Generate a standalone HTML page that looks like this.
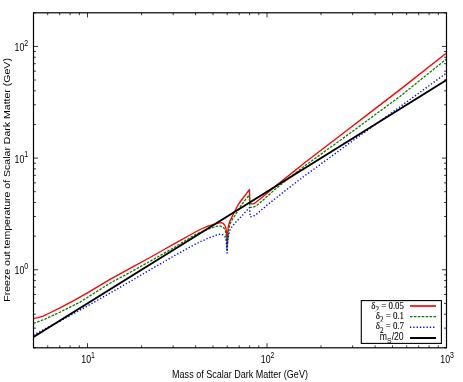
<!DOCTYPE html>
<html><head><meta charset="utf-8"><style>
html,body{margin:0;padding:0;background:#fff;}
svg{display:block;will-change:transform;}
text{font-family:"Liberation Sans",sans-serif;fill:#000;}
.ser{font-family:"Liberation Serif",serif;font-size:10.4px;stroke:#000;stroke-width:0.1px;}
</style></head><body>
<svg width="463" height="382" viewBox="0 0 463 382">
<rect width="463" height="382" fill="#fff"/>
<g fill="none" stroke-linejoin="round">
<polyline points="33.5,318.6 38.0,317.7 43.0,316.1 49.6,313.0 60.0,307.9 74.5,300.2 87.0,293.1 110.0,279.4 130.0,268.4 150.0,257.5 165.0,249.0 175.0,243.4 180.0,240.7 190.0,235.0 200.0,229.5 208.0,226.2 213.0,224.6 217.5,223.3 221.0,222.7 223.0,223.3 224.6,225.0 225.6,227.2 226.1,229.5 226.5,233.0 226.8,240.0 227.1,246.5 227.3,240.0 227.7,233.0 228.3,226.5 229.8,221.3 231.9,217.1 233.0,214.8 238.0,205.0 241.5,200.0 246.0,194.2 249.4,189.6 249.9,202.8 251.5,203.9 253.5,203.8 255.0,203.0 260.0,199.0 268.0,192.5 274.6,186.9 305.0,162.5 350.0,128.0 370.0,112.6 400.0,89.6 446.5,53.0" stroke="#ff0000" stroke-width="1.35"/>
<polyline points="33.5,323.4 45.0,319.1 60.0,312.1 80.0,302.1 87.0,297.7 110.0,283.2 130.0,272.4 150.0,261.3 175.0,247.0 195.0,234.7 208.0,229.2 214.0,227.0 217.5,226.2 220.4,226.0 222.2,226.6 223.5,227.6 224.6,229.0 225.4,230.9 226.0,234.2 226.5,240.0 226.8,246.5 227.1,250.5 227.4,246.0 227.7,240.5 228.5,230.7 229.8,224.4 231.9,220.2 234.3,216.5 240.8,205.9 246.0,198.9 249.3,195.0 249.9,207.3 252.0,207.4 254.6,206.6 257.6,204.8 262.0,201.0 275.0,189.4 290.0,177.2 305.0,165.7 350.0,133.2 400.0,96.4 446.5,58.9" stroke="#008000" stroke-width="1.3" stroke-dasharray="2.6,1.3"/>
<polyline points="33.5,335.2 45.0,328.8 60.0,321.2 87.0,306.2 110.0,293.1 130.0,281.6 150.0,269.8 165.0,261.2 175.0,255.3 195.0,244.3 208.0,238.2 212.0,236.8 215.5,235.3 218.3,234.5 220.5,234.2 222.5,234.5 224.0,235.4 225.1,237.0 225.8,239.2 226.3,242.5 226.7,247.0 227.1,253.0 227.4,246.5 227.8,240.5 228.8,233.9 230.0,230.3 231.4,227.6 234.6,223.4 238.2,219.7 241.4,216.4 245.0,212.4 249.4,207.7 250.3,216.9 253.0,216.3 256.0,214.7 260.0,211.3 266.8,205.3 285.0,190.9 305.0,175.6 313.0,169.8 350.0,142.7 400.0,106.8 446.5,73.0" stroke="#0000ff" stroke-width="1.4" stroke-dasharray="1.3,2.0"/>
<polyline points="33.5,337.0 446.5,80.0" stroke="#000" stroke-width="2"/>
</g>
<rect x="33.5" y="12.8" width="413.0" height="335.0" fill="none" stroke="#000" stroke-width="1.2"/>
<path d="M33.50,347.80v-2.40M33.50,12.80v2.40M47.71,347.80v-2.40M47.71,12.80v2.40M59.73,347.80v-2.40M59.73,12.80v2.40M70.14,347.80v-2.40M70.14,12.80v2.40M79.32,347.80v-2.40M79.32,12.80v2.40M87.53,347.80v-4.60M87.53,12.80v4.60M141.56,347.80v-2.40M141.56,12.80v2.40M173.17,347.80v-2.40M173.17,12.80v2.40M195.59,347.80v-2.40M195.59,12.80v2.40M212.98,347.80v-2.40M212.98,12.80v2.40M227.20,347.80v-2.40M227.20,12.80v2.40M239.21,347.80v-2.40M239.21,12.80v2.40M249.62,347.80v-2.40M249.62,12.80v2.40M258.80,347.80v-2.40M258.80,12.80v2.40M267.02,347.80v-4.60M267.02,12.80v4.60M321.05,347.80v-2.40M321.05,12.80v2.40M352.65,347.80v-2.40M352.65,12.80v2.40M375.08,347.80v-2.40M375.08,12.80v2.40M392.47,347.80v-2.40M392.47,12.80v2.40M406.68,347.80v-2.40M406.68,12.80v2.40M418.70,347.80v-2.40M418.70,12.80v2.40M429.11,347.80v-2.40M429.11,12.80v2.40M438.29,347.80v-2.40M438.29,12.80v2.40M33.50,347.80h2.40M446.50,347.80h-2.40M33.50,328.14h2.40M446.50,328.14h-2.40M33.50,314.18h2.40M446.50,314.18h-2.40M33.50,303.36h2.40M446.50,303.36h-2.40M33.50,294.52h2.40M446.50,294.52h-2.40M33.50,287.05h2.40M446.50,287.05h-2.40M33.50,280.57h2.40M446.50,280.57h-2.40M33.50,274.86h2.40M446.50,274.86h-2.40M33.50,269.75h4.60M446.50,269.75h-4.60M33.50,236.13h2.40M446.50,236.13h-2.40M33.50,216.47h2.40M446.50,216.47h-2.40M33.50,202.52h2.40M446.50,202.52h-2.40M33.50,191.70h2.40M446.50,191.70h-2.40M33.50,182.85h2.40M446.50,182.85h-2.40M33.50,175.38h2.40M446.50,175.38h-2.40M33.50,168.90h2.40M446.50,168.90h-2.40M33.50,163.19h2.40M446.50,163.19h-2.40M33.50,158.08h4.60M446.50,158.08h-4.60M33.50,124.47h2.40M446.50,124.47h-2.40M33.50,104.80h2.40M446.50,104.80h-2.40M33.50,90.85h2.40M446.50,90.85h-2.40M33.50,80.03h2.40M446.50,80.03h-2.40M33.50,71.19h2.40M446.50,71.19h-2.40M33.50,63.71h2.40M446.50,63.71h-2.40M33.50,57.24h2.40M446.50,57.24h-2.40M33.50,51.52h2.40M446.50,51.52h-2.40M33.50,46.42h4.60M446.50,46.42h-4.60M33.50,12.80h2.40M446.50,12.80h-2.40" stroke="#000" stroke-width="0.8" fill="none"/>
<g transform="translate(88.13,363.20) scale(0.845,1)"><text x="0" y="0" text-anchor="middle" font-size="10.4">10<tspan dy="-5.4" font-size="8.3">1</tspan></text></g><g transform="translate(267.62,363.20) scale(0.845,1)"><text x="0" y="0" text-anchor="middle" font-size="10.4">10<tspan dy="-5.4" font-size="8.3">2</tspan></text></g><g transform="translate(447.10,363.20) scale(0.845,1)"><text x="0" y="0" text-anchor="middle" font-size="10.4">10<tspan dy="-5.4" font-size="8.3">3</tspan></text></g><g transform="translate(28.20,274.45) scale(0.845,1)"><text x="0" y="0" text-anchor="end" font-size="10.4">10<tspan dy="-5.4" font-size="8.3">0</tspan></text></g><g transform="translate(28.20,162.78) scale(0.845,1)"><text x="0" y="0" text-anchor="end" font-size="10.4">10<tspan dy="-5.4" font-size="8.3">1</tspan></text></g><g transform="translate(28.20,51.12) scale(0.845,1)"><text x="0" y="0" text-anchor="end" font-size="10.4">10<tspan dy="-5.4" font-size="8.3">2</tspan></text></g>
<g transform="translate(240,377.8) scale(0.877,1)"><text text-anchor="middle" font-size="10.3">Mass of Scalar Dark Matter (GeV)</text></g>
<g transform="translate(10.2,179.9) rotate(-90) scale(1,0.87)"><text text-anchor="middle" font-size="10.55">Freeze out temperature of Scalar Dark Matter (GeV)</text></g>
<!-- legend -->
<rect x="361.3" y="300.5" width="80.1" height="42.7" fill="#fff" stroke="none"/>
<g transform="translate(404,308.8) scale(0.855,1)"><text text-anchor="end" class="ser">δ<tspan dy="3.2" font-size="8.3">2</tspan><tspan dy="-3.2"> = 0.05</tspan></text></g>
<rect x="376" y="310.5" width="12" height="2" fill="#fff"/>
<g transform="translate(404,318.8) scale(0.855,1)"><text text-anchor="end" class="ser">δ<tspan dy="3.2" font-size="8.3">2</tspan><tspan dy="-3.2"> = 0.1</tspan></text></g>
<rect x="376" y="321.4" width="12" height="1.5" fill="#fff"/>
<g transform="translate(404,329.3) scale(0.855,1)"><text text-anchor="end" class="ser">δ<tspan dy="3.2" font-size="8.3">2</tspan><tspan dy="-3.2"> = 0.7</tspan></text></g>
<g transform="translate(403.7,339.5) scale(0.86,1)"><text text-anchor="end" font-size="10.1">m<tspan dy="3.8" font-size="8">S</tspan><tspan dy="-3.8">/20</tspan></text></g>
<rect x="361.3" y="300.6" width="80.1" height="42.8" fill="none" stroke="#000" stroke-width="1.1"/>
<g fill="none">
<path d="M410,306H436" stroke="#ff0000" stroke-width="1.7"/>
<path d="M410,316.7H436" stroke="#008000" stroke-width="1.3" stroke-dasharray="2.6,1.3"/>
<path d="M410,327.2H434.5" stroke="#0000ff" stroke-width="1.4" stroke-dasharray="1.3,2.0"/>
<path d="M410,338H436" stroke="#000" stroke-width="2"/>
</g>
</svg>
</body></html>
